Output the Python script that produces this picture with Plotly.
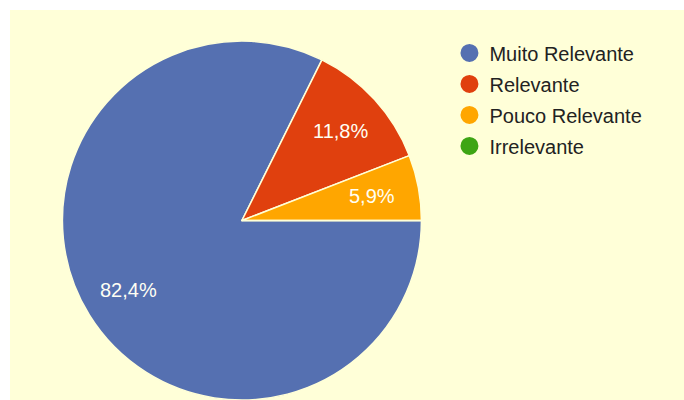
import math
import plotly.graph_objects as go

# Survey answers: how relevant respondents consider the topic
categories = ["Muito Relevante", "Relevante", "Pouco Relevante", "Irrelevante"]
counts = [14, 2, 1, 0]
colors = ["#5570B1", "#E0400E", "#FFA600", "#3EA514"]

bg = "#FFFFD8"
font_family = "Arial, 'Liberation Sans', sans-serif"

W, H = 684, 400
margin = dict(l=10, r=0, t=10, b=0)
pie_x = [0.0772, 0.611]
pie_y = [0.0, 0.9205]
start_angle = 90  # degrees clockwise from 12 o'clock
label_radius = 0.74  # fraction of the pie radius

fig = go.Figure()

fig.add_trace(go.Pie(
    labels=categories,
    values=counts,
    sort=False,
    direction="clockwise",
    rotation=start_angle,
    marker=dict(colors=colors, line=dict(color=bg, width=1.5)),
    textinfo="none",
    hoverinfo="label+percent",
    showlegend=False,
    domain=dict(x=pie_x, y=pie_y),
))

# Percentage labels placed along each slice's bisector
plot_w = W - margin["l"] - margin["r"]
plot_h = H - margin["t"] - margin["b"]
cx = sum(pie_x) / 2
cy = sum(pie_y) / 2
radius_px = min((pie_x[1] - pie_x[0]) * plot_w, (pie_y[1] - pie_y[0]) * plot_h) / 2
total = sum(counts)
angle = start_angle
annotations = []
for value in counts:
    sweep = 360 * value / total
    if value > 0:
        mid = math.radians(angle + sweep / 2)
        r = label_radius * radius_px
        pct = f"{100 * value / total:.1f}%".replace(".", ",")
        annotations.append(dict(
            x=cx + r * math.sin(mid) / plot_w,
            y=cy + r * math.cos(mid) / plot_h,
            xref="paper", yref="paper",
            text=pct, showarrow=False,
            xanchor="center", yanchor="middle",
            font=dict(family=font_family, size=20, color="#FFFFF4"),
        ))
    angle += sweep

# Legend entries with round swatches
for name, color in zip(categories, colors):
    fig.add_trace(go.Scatter(
        x=[None], y=[None],
        mode="markers",
        name=name,
        legendgroup=name,
        marker=dict(symbol="circle", size=16, color=color,
                    line=dict(color=color, width=2)),
        showlegend=True,
        hoverinfo="skip",
    ))

fig.update_layout(
    width=W,
    height=H,
    margin=margin,
    paper_bgcolor="white",
    plot_bgcolor=bg,
    separators=",.",
    font=dict(family=font_family, size=20, color="#222222"),
    xaxis=dict(visible=False),
    yaxis=dict(visible=False),
    legend=dict(
        x=0.652, y=0.94, xanchor="left", yanchor="top",
        bgcolor="rgba(0,0,0,0)",
        font=dict(family=font_family, size=20, color="#222222"),
        itemsizing="trace",
        tracegroupgap=2,
    ),
    annotations=annotations,
    shapes=[dict(type="rect", xref="paper", yref="paper",
                 x0=0, x1=1, y0=0, y1=1, fillcolor=bg,
                 line=dict(width=0), layer="below")],
)

fig.write_html("out.html")
